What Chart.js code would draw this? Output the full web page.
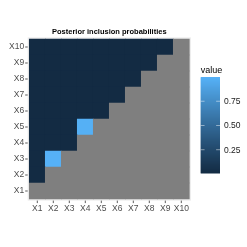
<!DOCTYPE html>
<html>
<head>
<meta charset="utf-8">
<script src="https://cdn.jsdelivr.net/npm/chart.js@4"></script>
<style>
  html, body { margin: 0; padding: 0; background: #fff; }
</style>
</head>
<body>
<canvas id="heat" width="247" height="247"></canvas>
<script>
const vars = ["X1", "X2", "X3", "X4", "X5", "X6", "X7", "X8", "X9", "X10"];

// one row per y variable (X1 at the bottom), one entry per x variable; null = NA
const pip = [
  [null, null, null, null, null, null, null, null, null, null],
  [0.01, null, null, null, null, null, null, null, null, null],
  [0.01, 1.00, null, null, null, null, null, null, null, null],
  [0.01, 0.01, 0.01, null, null, null, null, null, null, null],
  [0.01, 0.01, 0.01, 0.99, null, null, null, null, null, null],
  [0.01, 0.01, 0.01, 0.01, 0.01, null, null, null, null, null],
  [0.01, 0.01, 0.01, 0.01, 0.01, 0.01, null, null, null, null],
  [0.01, 0.01, 0.01, 0.01, 0.01, 0.01, 0.01, null, null, null],
  [0.01, 0.01, 0.01, 0.01, 0.01, 0.01, 0.01, 0.01, null, null],
  [0.01, 0.01, 0.01, 0.01, 0.01, 0.01, 0.01, 0.01, 0.01, null]
];

const legendTicks = [0.25, 0.50, 0.75];

const lowColor = "#132B43";
const highColor = "#56B1F7";
const naColor = "#7F7F7F";
const axisFont = { family: "'Liberation Sans', Arial, sans-serif", size: 8.5 };

const allValues = pip.flat().filter(v => v !== null);
const vmin = Math.min(...allValues);
const vmax = Math.max(...allValues);

// ggplot interpolates the gradient in Lab space
function toLab(hex) {
  const c = [1, 3, 5].map(k => parseInt(hex.substr(k, 2), 16) / 255)
    .map(v => v <= 0.04045 ? v / 12.92 : Math.pow((v + 0.055) / 1.055, 2.4));
  const x = (c[0] * 0.4124 + c[1] * 0.3576 + c[2] * 0.1805) / 0.95047;
  const y = c[0] * 0.2126 + c[1] * 0.7152 + c[2] * 0.0722;
  const z = (c[0] * 0.0193 + c[1] * 0.1192 + c[2] * 0.9505) / 1.08883;
  const f = t => t > 0.008856 ? Math.cbrt(t) : 7.787 * t + 16 / 116;
  return [116 * f(y) - 16, 500 * (f(x) - f(y)), 200 * (f(y) - f(z))];
}

function fromLab(L, a, b) {
  const fy = (L + 16) / 116, fx = fy + a / 500, fz = fy - b / 200;
  const inv = t => t * t * t > 0.008856 ? t * t * t : (t - 16 / 116) / 7.787;
  const x = inv(fx) * 0.95047, y = inv(fy), z = inv(fz) * 1.08883;
  const r = x * 3.2406 - y * 1.5372 - z * 0.4986;
  const g = -x * 0.9689 + y * 1.8758 + z * 0.0415;
  const bl = x * 0.0557 - y * 0.2040 + z * 1.0570;
  const gam = v => {
    v = v <= 0.0031308 ? 12.92 * v : 1.055 * Math.pow(v, 1 / 2.4) - 0.055;
    return Math.round(Math.min(1, Math.max(0, v)) * 255);
  };
  return `rgb(${gam(r)},${gam(g)},${gam(bl)})`;
}

const labLow = toLab(lowColor);
const labHigh = toLab(highColor);

function colorAt(t) {
  return fromLab(...labLow.map((l, k) => l + (labHigh[k] - l) * t));
}

function fillFor(v) {
  if (v === null) return naColor;
  return colorAt((v - vmin) / (vmax - vmin));
}

const datasets = pip.map((row, r) => ({
  label: vars[r],
  data: row.map((v, c) => ({ x: c + 1, y: [r + 0.5, r + 1.5] })),
  backgroundColor: row.map(fillFor),
  borderWidth: 0,
  barPercentage: 1,
  categoryPercentage: 1
}));

const panelPlugin = {
  id: "panel",
  beforeDatasetsDraw(chart) {
    const { ctx, chartArea: a } = chart;
    ctx.save();
    ctx.fillStyle = "#EBEBEB";
    ctx.fillRect(a.left, a.top, a.right - a.left, a.bottom - a.top);
    ctx.restore();
  },
  afterDraw(chart) {
    const { ctx, chartArea: a, scales } = chart;
    ctx.save();
    // axis tick marks at category centres
    ctx.strokeStyle = "#333333";
    ctx.lineWidth = 0.8;
    ctx.beginPath();
    scales.x.ticks.forEach(t => {
      const px = scales.x.getPixelForValue(t.value);
      ctx.moveTo(px, a.bottom);
      ctx.lineTo(px, a.bottom + 2.5);
    });
    scales.y.ticks.forEach(t => {
      const py = scales.y.getPixelForValue(t.value);
      ctx.moveTo(a.left - 2.5, py);
      ctx.lineTo(a.left, py);
    });
    ctx.stroke();

    // colour bar legend
    const bx = 200.7, by = 77, bw = 19.3, bh = 96;
    const nbin = 96;
    for (let k = 0; k < nbin; k++) {
      ctx.fillStyle = colorAt((k + 0.5) / nbin);
      ctx.fillRect(bx, by + bh - (k + 1) * bh / nbin, bw, bh / nbin + 0.5);
    }
    ctx.strokeStyle = "rgba(255,255,255,0.8)";
    ctx.lineWidth = 0.6;
    ctx.fillStyle = "#1A1A1A";
    ctx.font = "8.5px 'Liberation Sans', Arial, sans-serif";
    ctx.textAlign = "left";
    ctx.textBaseline = "middle";
    legendTicks.forEach(t => {
      const ty = by + bh - (t - vmin) / (vmax - vmin) * bh;
      ctx.beginPath();
      ctx.moveTo(bx, ty);
      ctx.lineTo(bx + bw / 5, ty);
      ctx.moveTo(bx + bw - bw / 5, ty);
      ctx.lineTo(bx + bw, ty);
      ctx.stroke();
      ctx.fillText(t.toFixed(2), 224, ty + 0.5);
    });
    ctx.fillStyle = "#000000";
    ctx.font = "9px 'Liberation Sans', Arial, sans-serif";
    ctx.textBaseline = "alphabetic";
    ctx.fillText("value", bx, 72.5);
    ctx.restore();
  }
};

new Chart(document.getElementById("heat"), {
  type: "bar",
  data: { datasets },
  options: {
    responsive: false,
    animation: false,
    devicePixelRatio: 1,
    layout: { padding: { left: 0, right: 56.1, top: 0, bottom: 32.4 } },
    plugins: {
      legend: { display: false },
      tooltip: { enabled: false },
      title: {
        display: true,
        fullSize: false,
        text: "Posterior inclusion probabilities",
        color: "#000000",
        font: { family: "'Liberation Sans', Arial, sans-serif", size: 7.5, weight: "bold", lineHeight: 1.2 },
        padding: { top: 27, bottom: 1.4 }
      }
    },
    scales: {
      x: {
        type: "linear",
        min: 0.4,
        max: 10.6,
        offset: false,
        stacked: true,
        z: 1,
        afterBuildTicks: s => { s.ticks = vars.map((v, i) => ({ value: i + 1 })); },
        afterFit: s => { s.height = 14; },
        ticks: {
          autoSkip: false,
          maxRotation: 0,
          padding: 0,
          color: "#4D4D4D",
          font: axisFont,
          callback: v => vars[v - 1]
        },
        grid: { offset: true, color: "rgba(255,255,255,0.14)", lineWidth: 1, tickLength: 2.5, tickColor: "transparent" },
        border: { display: false }
      },
      y: {
        type: "linear",
        min: 0.4,
        max: 10.6,
        z: 1,
        afterBuildTicks: s => { s.ticks = vars.map((v, i) => ({ value: i + 1 })); },
        afterFit: s => { s.width = 27.7; },
        ticks: {
          autoSkip: false,
          padding: 1,
          color: "#4D4D4D",
          font: axisFont,
          callback: v => vars[v - 1]
        },
        grid: { offset: true, color: "rgba(255,255,255,0.14)", lineWidth: 1, tickLength: 2.5, tickColor: "transparent" },
        border: { display: false }
      }
    }
  },
  plugins: [panelPlugin]
});
</script>
</body>
</html>
